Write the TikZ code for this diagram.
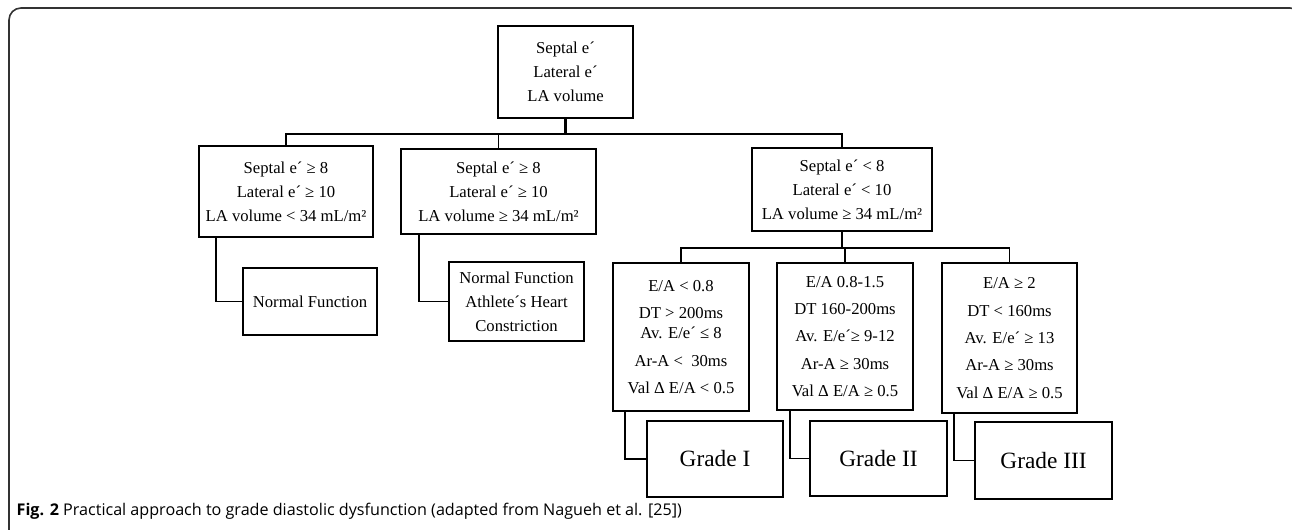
\documentclass[tikz,border=0pt]{standalone}
\usepackage{fontspec}
\setmainfont{Liberation Serif}
\newfontfamily\capfont{Open Sans}
\usetikzlibrary{positioning}

\begin{document}
\begin{tikzpicture}[x=0.75pt,y=0.75pt,yscale=-1,xscale=1,
	box/.style={draw, line width=1.3pt, align=center, inner sep=0pt, font=\fontsize{12.5}{18}\selectfont},
	gradebox/.style={box, font=\fontsize{12.5}{20.5}\selectfont},
	result/.style={box, font=\fontsize{17.5}{21}\selectfont},
	link/.style={line width=1pt},
	stem/.style={line width=1.6pt}]
		\clip (0,0) rectangle (1292,530);
		
		%Frame
		\draw [line width=1.2pt, color=black!80, rounded corners=9pt] (9,545) -- (9,8) -- (1302,8) -- (1302,545) ;
		
		%Shape: Rectangle [root]
		\node [box, minimum width=101.25pt, minimum height=69pt] (root) at (565.5,72) {Septal e´\\Lateral e´\\LA volume};
		%Shape: Rectangle [first level]
		\node [box, minimum width=130.5pt, minimum height=68.25pt] (sepA) at (286,191.5) {Septal e´ ≥ 8\\Lateral e´ ≥ 10\\LA volume < 34 mL/m²};
		\node [box, minimum width=146.25pt, minimum height=63.75pt] (sepB) at (498.5,191.5) {Septal e´ ≥ 8\\Lateral e´ ≥ 10\\LA volume ≥ 34 mL/m²};
		\node [box, minimum width=135pt, minimum height=62.25pt] (sepC) at (842,189.5) {Septal e´ < 8\\Lateral e´ < 10\\LA volume ≥ 34 mL/m²};
		%Shape: Rectangle [outcomes]
		\node [box, minimum width=100.5pt, minimum height=50.25pt] (normA) at (310,301.5) {Normal Function};
		\node [box, minimum width=101.25pt, minimum height=59.25pt] (normB) at (516.5,301.5) {Normal Function\\Athlete´s Heart\\Constriction};
		%Shape: Rectangle [second level]
		\node [gradebox, minimum width=102pt, minimum height=111pt] (crit1) at (681,337) {E/A < 0.8\\DT > 200ms\\[-5.5pt]Av. E/e´ ≤ 8\\Ar-A <\ \ 30ms\\Val Δ E/A < 0.5};
		\node [gradebox, minimum width=102pt, minimum height=110.25pt] (crit2) at (845,336.5) {E/A 0.8-1.5\\DT 160-200ms\\Av. E/e´≥ 9-12\\Ar-A ≥ 30ms\\Val Δ E/A ≥ 0.5};
		\node [gradebox, minimum width=101.25pt, minimum height=112.5pt] (crit3) at (1009.5,338) {E/A ≥ 2\\DT < 160ms\\Av. E/e´ ≥ 13\\Ar-A ≥ 30ms\\Val Δ E/A ≥ 0.5};
		%Shape: Rectangle [grades]
		\node [result, minimum width=102pt, minimum height=57pt] (grade1) at (715,459) {Grade I};
		\node [result, minimum width=102.75pt, minimum height=56.25pt] (grade2) at (878.5,458.5) {Grade II};
		\node [result, minimum width=102.75pt, minimum height=57.75pt] (grade3) at (1043.5,460.5) {Grade III};
		
		%Straight Lines [bus from root]
		\draw [stem] (root.south) -- ++(0,15) coordinate (busTop) ;
		\draw [link] (busTop) -| (sepA.north) ;
		\draw [link] (busTop) -| (sepB.north) ;
		\draw [link] (busTop) -| (sepC.north) ;
		%Straight Lines [bus from sepC]
		\draw [stem] (sepC.south) -- ++(0,16) coordinate (busLow) ;
		\draw [link] (busLow) -| (crit1.north) ;
		\draw [link] (busLow) -| (crit2.north) ;
		\draw [link] (busLow) -| (crit3.north) ;
		%Straight Lines [elbows]
		\draw [link] ([xshift=13.5pt]sepA.south west) |- (normA.west) ;
		\draw [link] ([xshift=14.25pt]sepB.south west) |- (normB.west) ;
		\draw [link] ([xshift=9.75pt]crit1.south west) |- (grade1.west) ;
		\draw [link] ([xshift=10.5pt]crit2.south west) |- (grade2.west) ;
		\draw [link] ([xshift=9.75pt]crit3.south west) |- (grade3.west) ;
		
		% Text Node
		\node [anchor=base west, font=\capfont\fontsize{12.1}{14}\selectfont] (caption) at (12,516) {\textbf{Fig. 2} Practical approach to grade diastolic dysfunction (adapted from Nagueh et al. [25])};
		
\end{tikzpicture}
\end{document}
